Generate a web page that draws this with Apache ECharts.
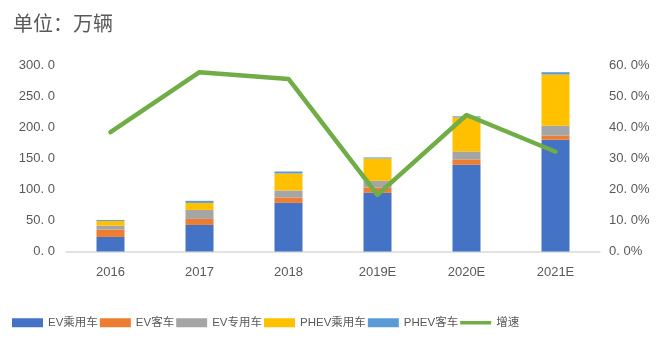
<!DOCTYPE html>
<html>
<head>
<meta charset="utf-8">
<style>
  html, body { margin: 0; padding: 0; background: #fff; }
  #chart { width: 659px; height: 345px; }
</style>
<script src="https://cdn.jsdelivr.net/npm/echarts@6/dist/echarts.min.js"></script>
</head>
<body>
<div id="chart"></div>
<script>
// 新能源汽车销量（万辆）及增速
const years = ['2016', '2017', '2018', '2019E', '2020E', '2021E'];
const evPassenger = [23.4, 42.7, 78.2, 94.4, 139.5, 179.8];
const evBus = [11.8, 9.7, 8.6, 8.5, 8.6, 6.5];
const evSpecial = [6.4, 14.5, 11.3, 10.8, 12.9, 16.1];
const phevPassenger = [7.6, 11.3, 27.4, 36.0, 54.8, 82.3];
const phevBus = [1.6, 3.3, 3.2, 1.6, 1.6, 3.7];
const growth = [38.4, 57.7, 55.5, 18.2, 43.9, 32.1];

const leftTicks = { min: 0, max: 300, interval: 50 };
const rightTicks = { min: 0, max: 60, interval: 10 };

const latin = '"Liberation Sans", Arial, "Noto Sans CJK SC", sans-serif';
const cjk = '"Noto Sans CJK SC", "Liberation Sans", sans-serif';
const textColor = '#595959';

function barSeries(name, data, color) {
  return {
    name: name,
    type: 'bar',
    stack: 'sales',
    barWidth: 28,
    data: data,
    itemStyle: { color: color },
    emphasis: { disabled: true }
  };
}

const chart = echarts.init(document.getElementById('chart'), null, { renderer: 'canvas' });
chart.setOption({
  animation: false,
  title: {
    text: '单位：万辆',
    left: 8,
    top: 8,
    textStyle: { fontFamily: cjk, fontSize: 20, fontWeight: 'normal', color: textColor }
  },
  grid: { left: 66, right: 59, top: 65, bottom: 93.5, containLabel: false },
  legend: {
    left: 7,
    top: 312,
    itemWidth: 31,
    itemHeight: 9,
    itemGap: 2,
    textStyle: { fontFamily: latin, fontSize: 11.5, color: textColor },
    data: [
      { name: 'EV乘用车', icon: 'rect' },
      { name: 'EV客车', icon: 'rect' },
      { name: 'EV专用车', icon: 'rect' },
      { name: 'PHEV乘用车', icon: 'rect' },
      { name: 'PHEV客车', icon: 'rect' },
      { name: '增速', icon: 'path://M0,0L35,0L35,4L0,4Z' }
    ]
  },
  xAxis: {
    type: 'category',
    data: years,
    axisLine: { lineStyle: { color: '#D9D9D9', width: 1.5 } },
    axisTick: { show: false },
    axisLabel: { fontFamily: latin, fontSize: 13, color: textColor, margin: 14 }
  },
  yAxis: [
    {
      type: 'value',
      min: leftTicks.min,
      max: leftTicks.max,
      interval: leftTicks.interval,
      splitLine: { show: false },
      axisLine: { show: false },
      axisTick: { show: false },
      axisLabel: {
        fontFamily: latin, fontSize: 13, color: textColor, margin: 11,
        formatter: v => v.toFixed(1).replace('.', '. ')
      }
    },
    {
      type: 'value',
      min: rightTicks.min,
      max: rightTicks.max,
      interval: rightTicks.interval,
      splitLine: { show: false },
      axisLine: { show: false },
      axisTick: { show: false },
      axisLabel: {
        fontFamily: latin, fontSize: 13, color: textColor, margin: 9,
        formatter: v => v.toFixed(1).replace('.', '. ') + '%'
      }
    }
  ],
  series: [
    barSeries('EV乘用车', evPassenger, '#4472C4'),
    barSeries('EV客车', evBus, '#ED7D31'),
    barSeries('EV专用车', evSpecial, '#A5A5A5'),
    barSeries('PHEV乘用车', phevPassenger, '#FFC000'),
    barSeries('PHEV客车', phevBus, '#5B9BD5'),
    {
      name: '增速',
      type: 'line',
      yAxisIndex: 1,
      data: growth,
      symbol: 'none',
      symbolKeepAspect: true,
      lineStyle: { color: '#70AD47', width: 4.5, cap: 'round', join: 'round' },
      itemStyle: { color: '#70AD47' },
      emphasis: { disabled: true },
      z: 5
    }
  ]
});
</script>
</body>
</html>
